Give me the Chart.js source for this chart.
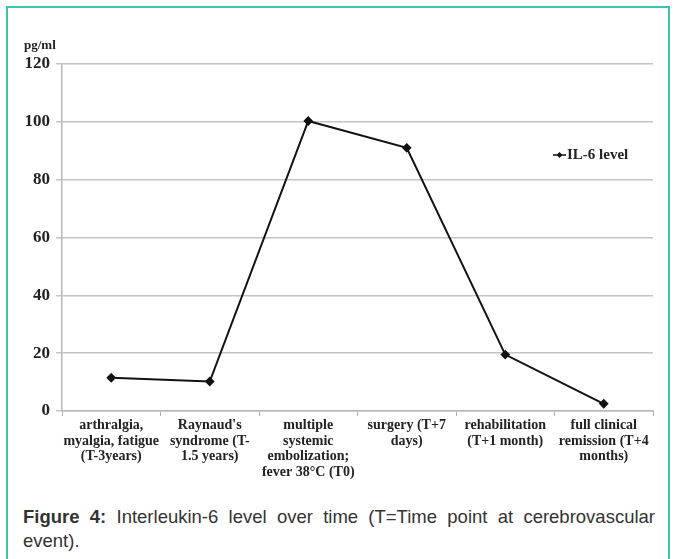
<!DOCTYPE html>
<html>
<head>
    <title>IL-6 level over time</title>
    <script src="https://cdn.jsdelivr.net/npm/chart.js"></script>
    <style>
        body {
            margin: 0;
            padding: 0;
            background: #fff;
            width: 675px;
            height: 559px;
            overflow: hidden;
            position: relative;
        }

        #frame {
            position: absolute;
            left: 6px;
            top: 6px;
            width: 660px;
            height: 600px;
            border: 2px solid #3cc4ae;
            border-bottom: none;
        }

        #chart-container {
            position: absolute;
            left: 0;
            top: 0;
            width: 675px;
            height: 500px;
        }

        #caption {
            position: absolute;
            left: 23px;
            top: 505px;
            width: 632px;
            font-family: 'Liberation Sans', Arial, sans-serif;
            font-size: 18.5px;
            line-height: 24px;
            color: #333;
            text-align: justify;
        }
    </style>
</head>
<body>
    <div id="frame"></div>
    <div id="chart-container">
        <canvas id="myChart" width="675" height="500"></canvas>
    </div>
    <div id="caption"><b>Figure 4:</b> Interleukin-6 level over time (T=Time point at cerebrovascular event).</div>

    <script>
        const categories = [
            ['arthralgia,', 'myalgia, fatigue', '(T-3years)'],
            ["Raynaud's", 'syndrome (T-', '1.5 years)'],
            ['multiple', 'systemic', 'embolization;', 'fever 38°C (T0)'],
            ['surgery (T+7', 'days)'],
            ['rehabilitation', '(T+1 month)'],
            ['full clinical', 'remission (T+4', 'months)']
        ];
        const il6Values = [11.5, 10.2, 100.3, 91, 19.5, 2.5];
        const seriesName = 'IL-6 level';
        const unitLabel = 'pg/ml';

        const serif = "'Liberation Serif', 'Times New Roman', serif";

        // draws the unit label and the little legend inside the plot
        const extras = {
            id: 'extras',
            afterDraw(chart) {
                const ctx = chart.ctx;
                ctx.save();
                ctx.fillStyle = '#222';
                ctx.font = 'bold 13px ' + serif;
                ctx.textBaseline = 'middle';
                ctx.textAlign = 'left';
                ctx.fillText(unitLabel, 24, 46);

                const ly = 155;
                ctx.strokeStyle = '#111';
                ctx.lineWidth = 1.5;
                ctx.beginPath();
                ctx.moveTo(553, ly);
                ctx.lineTo(566, ly);
                ctx.stroke();
                ctx.fillStyle = '#111';
                ctx.beginPath();
                ctx.moveTo(559.5, ly - 3);
                ctx.lineTo(562.5, ly);
                ctx.lineTo(559.5, ly + 3);
                ctx.lineTo(556.5, ly);
                ctx.closePath();
                ctx.fill();
                ctx.fillStyle = '#222';
                ctx.font = 'bold 15px ' + serif;
                ctx.fillText(seriesName, 567, ly);
                ctx.restore();
            }
        };

        new Chart(document.getElementById('myChart'), {
            type: 'line',
            data: {
                labels: categories,
                datasets: [{
                    label: seriesName,
                    data: il6Values,
                    borderColor: '#111',
                    borderWidth: 2,
                    pointStyle: 'rectRot',
                    pointRadius: 3.5,
                    pointBackgroundColor: '#111',
                    pointBorderColor: '#111',
                    tension: 0
                }]
            },
            options: {
                responsive: false,
                animation: false,
                layout: {
                    padding: { top: 64, right: 22, left: 0, bottom: 0 }
                },
                plugins: {
                    legend: { display: false },
                    tooltip: { enabled: false }
                },
                scales: {
                    x: {
                        offset: true,
                        grid: {
                            offset: true,
                            drawOnChartArea: false,
                            tickLength: 5,
                            color: '#b0b0b0'
                        },
                        border: { color: '#b8b8b8', width: 1.5 },
                        ticks: {
                            autoSkip: false,
                            maxRotation: 0,
                            color: '#222',
                            padding: 2,
                            font: { family: serif, size: 14, weight: 'bold', lineHeight: 1.1 }
                        },
                        afterFit(scale) { scale.height = 89; }
                    },
                    y: {
                        min: 0,
                        max: 120,
                        ticks: {
                            stepSize: 20,
                            color: '#222',
                            padding: 6,
                            font: { family: serif, size: 17, weight: 'bold' }
                        },
                        grid: {
                            color: '#c4c4c4',
                            lineWidth: 1.5,
                            tickLength: 6
                        },
                        border: { color: '#b8b8b8', width: 1.5 },
                        afterFit(scale) { scale.width = 62; }
                    }
                }
            },
            plugins: [extras]
        });
    </script>
</body>
</html>
